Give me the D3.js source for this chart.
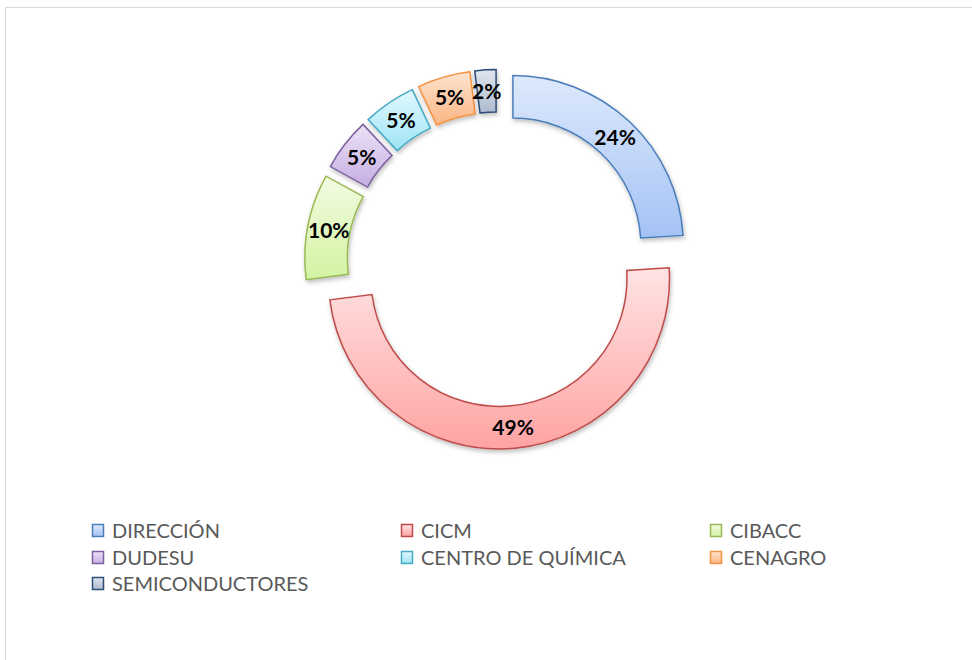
<!DOCTYPE html>
<html>
<head>
<meta charset="utf-8">
<script src="https://cdn.jsdelivr.net/npm/d3@7/dist/d3.min.js"></script>
<style>
  html, body { margin: 0; padding: 0; background: #ffffff; }
  svg { display: block; }
</style>
</head>
<body>
<svg id="chart" width="972" height="660"></svg>
<script>
// ---- data ----
const categories = ["DIRECCIÓN", "CICM", "CIBACC", "DUDESU", "CENTRO DE QUÍMICA", "CENAGRO", "SEMICONDUCTORES"];
const values = [24, 49, 10, 5, 5, 5, 2];
const labels = ["24%", "49%", "10%", "5%", "5%", "5%", "2%"];
const fillTop = ["#dde9fc", "#ffe3e3", "#f2fbe2", "#ece2f6", "#e2f8fd", "#fde4cf", "#e0e5ed"];
const fillBottom = ["#a4c2f4", "#ffa3a3", "#d3f3a2", "#c6aee2", "#9fe4f6", "#fbb583", "#aebbce"];
const strokes = ["#4a7ebb", "#be4b48", "#98b954", "#7d60a0", "#46aac5", "#f69240", "#2c4d75"];

const svg = d3.select("#chart");

// outer frame
svg.append("rect")
  .attr("x", 5.5).attr("y", 7.5)
  .attr("width", 1000).attr("height", 700)
  .attr("fill", "none").attr("stroke", "#d9d9d9").attr("stroke-width", 1);

const defs = svg.append("defs");
categories.forEach((c, i) => {
  const g = defs.append("linearGradient").attr("id", "grad" + i)
    .attr("x1", 0).attr("y1", 0).attr("x2", 0).attr("y2", 1);
  g.append("stop").attr("offset", "0%").attr("stop-color", fillTop[i]);
  g.append("stop").attr("offset", "100%").attr("stop-color", fillBottom[i]);
});
const flt = defs.append("filter").attr("id", "shadow")
  .attr("x", "-20%").attr("y", "-20%").attr("width", "140%").attr("height", "140%");
flt.append("feDropShadow").attr("dx", 1).attr("dy", 2.5).attr("stdDeviation", 2)
  .attr("flood-color", "#000").attr("flood-opacity", 0.25);

const cx = 497.5, cy = 262.5;
const outerR = 170.5, innerR = 128;
const explodeDefault = 22.5;
const explodeOverride = { "CICM": 16 };

const pie = d3.pie().sort(null).value(d => d)
  .startAngle(0).endAngle(2 * Math.PI);
const arcs = pie(values);
const arc = d3.arc().innerRadius(innerR).outerRadius(outerR);
const labelArc = d3.arc().innerRadius((innerR + outerR) / 2).outerRadius((innerR + outerR) / 2);

const root = svg.append("g").attr("transform", `translate(${cx},${cy})`);

const slices = root.selectAll("g.slice").data(arcs).enter().append("g")
  .attr("class", "slice")
  .attr("transform", (d, i) => {
    const m = (d.startAngle + d.endAngle) / 2;
    const e = explodeOverride[categories[i]] ?? explodeDefault;
    return `translate(${e * Math.sin(m)},${-e * Math.cos(m)})`;
  });

slices.append("path")
  .attr("d", arc)
  .attr("fill", (d, i) => `url(#grad${i})`)
  .attr("stroke", (d, i) => strokes[i])
  .attr("stroke-width", 1.5)
  .attr("filter", "url(#shadow)");

slices.append("text")
  .attr("transform", d => `translate(${labelArc.centroid(d)})`)
  .attr("text-anchor", "middle")
  .attr("dy", "0.36em")
  .attr("font-family", "Lato, 'Open Sans', sans-serif")
  .attr("font-weight", "bold")
  .attr("font-size", 21)
  .attr("fill", "#000")
  .text((d, i) => labels[i]);

// legend
const colX = [92, 401, 710];
const rowY = [531, 558, 584];
const legend = svg.append("g");
categories.forEach((c, i) => {
  const col = i % 3, row = Math.floor(i / 3);
  const x = colX[col], y = rowY[row];
  legend.append("rect")
    .attr("x", x + 0.5).attr("y", y - 6.5).attr("width", 11).attr("height", 12)
    .attr("fill", `url(#grad${i})`).attr("stroke", strokes[i]).attr("stroke-width", 1.5);
  legend.append("text")
    .attr("x", x + 20).attr("y", y).attr("dy", "0.35em")
    .attr("font-family", "Lato, 'Open Sans', sans-serif")
    .attr("font-size", 20)
    .attr("fill", "#595959")
    .text(c);
});
</script>
</body>
</html>
